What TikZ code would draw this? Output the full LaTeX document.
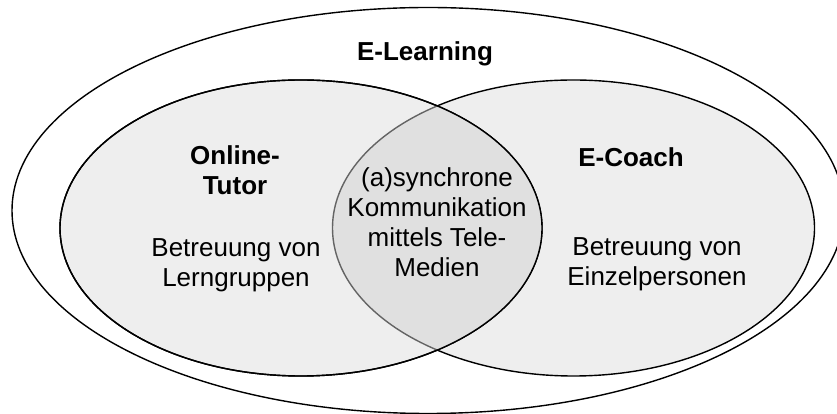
\documentclass[tikz,border=0pt]{standalone}
\usepackage{fontspec}
\setmainfont{Liberation Sans}
\usetikzlibrary{positioning}
\definecolor{setfill}{RGB}{238,238,238}
\definecolor{setcut}{RGB}{224,224,224}
\definecolor{setedge}{RGB}{100,100,100}

\begin{document}
\begin{tikzpicture}[
    x=1pt, y=1pt,
    setline/.style={draw=black, line width=1.4pt},
    inner/.style={x radius=241, y radius=148},
    title/.style={font=\fontsize{26}{30}\selectfont\bfseries, align=center, inner sep=0pt},
    desc/.style={font=\fontsize{26}{30}\selectfont, align=center, inner sep=0pt}
]
\useasboundingbox (0,0) rectangle (837,414);

% centres of the sets
\coordinate (outer) at (428,203.5);
\coordinate (tutor) at (301,186);
\coordinate (coach) at (573.5,186);

% === Sets ===
\draw[setline, fill=white] (outer) ellipse [x radius=416, y radius=203];
\draw[setline, fill=setfill] (coach) ellipse [inner];
\draw[setline, fill=setfill] (tutor) ellipse [inner];

% overlap
\begin{scope}
    \clip (tutor) ellipse [inner];
    \fill[setcut] (coach) ellipse [inner];
    \draw[setedge, line width=1.4pt] (coach) ellipse [inner];
\end{scope}
\draw[setline] (tutor) ellipse [inner];

% === Labels ===
\node[title] (elearn) at (425,360.5) {E-Learning};
\node[title] (online) at (235,244) {Online-\\Tutor};
\node[desc] (groups) at (236,149) {Betreuung von\\Lerngruppen};
\node[title] (ecoach) at (631,257) {E-Coach};
\node[desc] (single) at (657,149.5) {Betreuung von\\Einzelpersonen};
\node[desc] (media) at (437,192) {(a)synchrone\\Kommunikation\\mittels Tele-\\Medien};

\end{tikzpicture}
\end{document}
